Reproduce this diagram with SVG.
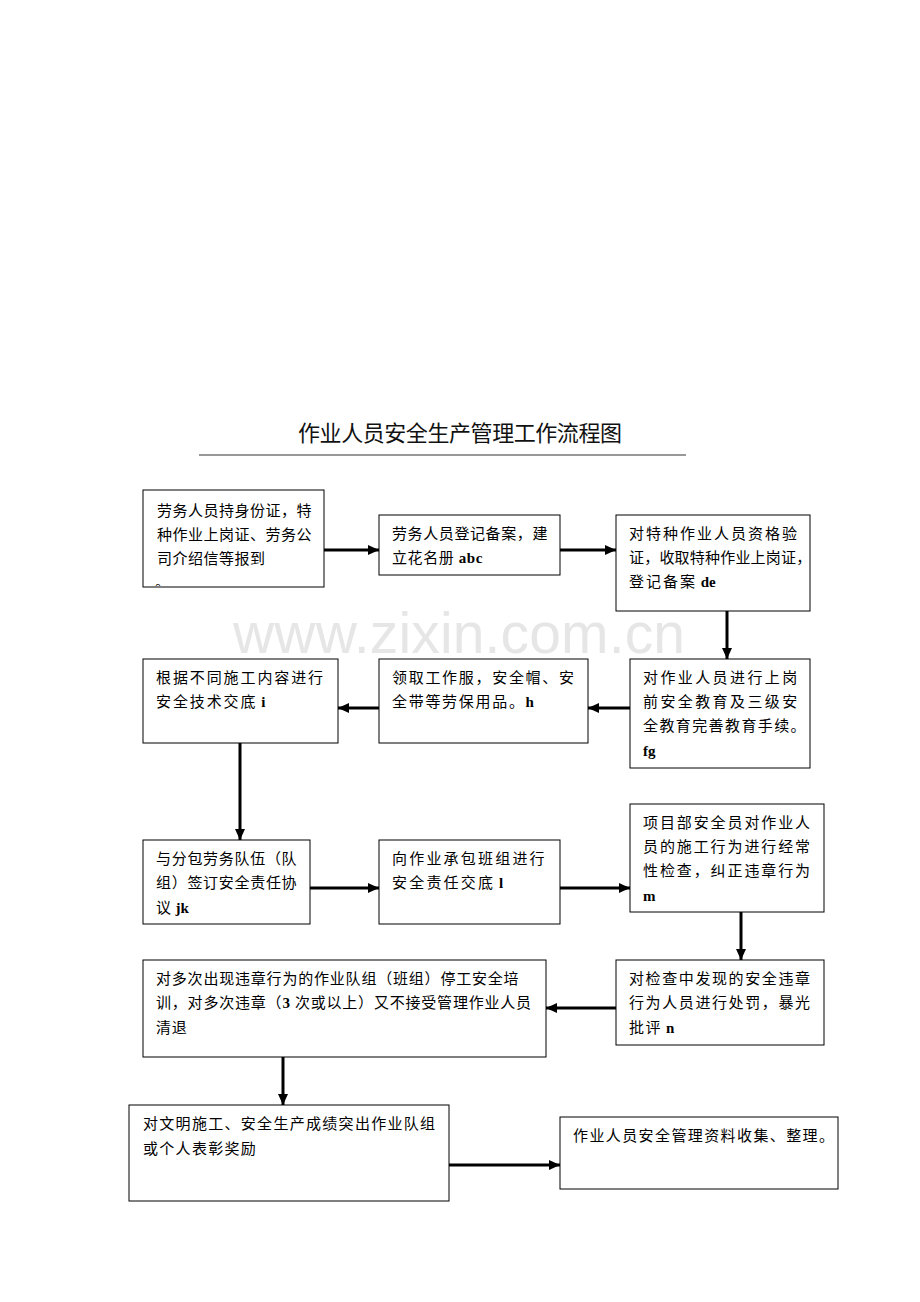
<svg xmlns="http://www.w3.org/2000/svg" width="920" height="1302" viewBox="0 0 920 1302">
<style>
.box{fill:#fff;stroke:#000;stroke-width:1}
.t{font-family:"Noto Sans CJK SC","Noto Sans",sans-serif;font-size:15px;fill:#000}
.b{font-family:"Liberation Serif",serif;font-weight:bold}
.c{stroke:#000;stroke-width:3;fill:none;marker-end:url(#ah)}
</style>
<defs>
<marker id="ah" markerUnits="userSpaceOnUse" markerWidth="12" markerHeight="10" refX="11" refY="5" orient="auto">
<path d="M0,0 L11,5 L0,10 Z" fill="#000"/>
</marker>
<clipPath id="clip1"><rect x="143" y="490" width="181" height="96"/></clipPath>
</defs>
<rect width="920" height="1302" fill="#fff"/>
<text x="233" y="653" font-family="Liberation Sans,Arial,sans-serif" font-size="57" fill="#e6e6e6" textLength="452">www.zixin.com.cn</text>
<g id="title">
<text x="298" y="441" class="t" style="font-size:22px;fill:#111" textLength="324" lengthAdjust="spacing">作业人员安全生产管理工作流程图</text>
<line x1="199" y1="455" x2="686" y2="455" stroke="#333" stroke-width="1"/>
</g>
<g id="connectors">
<line class="c" x1="324" y1="550" x2="379" y2="550"/>
<line class="c" x1="560" y1="550" x2="616" y2="550"/>
<line class="c" x1="727" y1="611" x2="727" y2="659"/>
<line class="c" x1="630" y1="708" x2="588" y2="708"/>
<line class="c" x1="379" y1="708" x2="338" y2="708"/>
<line class="c" x1="240" y1="743" x2="240" y2="840"/>
<line class="c" x1="310" y1="888" x2="379" y2="888"/>
<line class="c" x1="560" y1="888" x2="630" y2="888"/>
<line class="c" x1="741" y1="912" x2="741" y2="960"/>
<line class="c" x1="616" y1="1008" x2="546" y2="1008"/>
<line class="c" x1="283" y1="1057" x2="283" y2="1105"/>
<line class="c" x1="449" y1="1165" x2="560" y2="1165"/>
</g>
<g id="n1">
<rect class="box" x="143" y="490" width="181" height="97"/>
<g class="t" style="letter-spacing:0.5px">
<text x="157" y="516">劳务人员持身份证，特</text>
<text x="157" y="540">种作业上岗证、劳务公</text>
<text x="157" y="564">司介绍信等报到</text>
<text x="155" y="587" clip-path="url(#clip1)">。</text>
</g>
</g>
<g id="n2">
<rect class="box" x="379" y="515" width="181" height="60"/>
<g class="t" style="letter-spacing:0.6px">
<text x="392" y="539">劳务人员登记备案，建</text>
<text x="392" y="563">立花名册<tspan class="b"> abc</tspan></text>
</g>
</g>
<g id="n3">
<rect class="box" x="616" y="515" width="194" height="96"/>
<g class="t" style="letter-spacing:2px">
<text x="629" y="539">对特种作业人员资格验</text>
<text x="629" y="563" style="letter-spacing:0.2px">证，收取特种作业上岗证，</text>
<text x="629" y="587">登记备案<tspan class="b" style="letter-spacing:0"> de</tspan></text>
</g>
</g>
<g id="n4">
<rect class="box" x="143" y="659" width="195" height="84"/>
<g class="t" style="letter-spacing:1.9px">
<text x="156" y="683">根据不同施工内容进行</text>
<text x="156" y="707">安全技术交底<tspan class="b" style="letter-spacing:0"> i</tspan></text>
</g>
</g>
<g id="n5">
<rect class="box" x="379" y="659" width="209" height="84"/>
<g class="t" style="letter-spacing:1.7px">
<text x="392" y="683">领取工作服，安全帽、安</text>
<text x="392" y="707">全带等劳保用品。<tspan class="b" style="letter-spacing:0">h</tspan></text>
</g>
</g>
<g id="n6">
<rect class="box" x="630" y="659" width="180" height="109"/>
<g class="t" style="letter-spacing:2.4px">
<text x="643" y="683">对作业人员进行上岗</text>
<text x="643" y="707">前安全教育及三级安</text>
<text x="643" y="731" style="letter-spacing:1.4px">全教育完善教育手续。</text>
<text x="643" y="756" class="b" style="letter-spacing:0">fg</text>
</g>
</g>
<g id="n7">
<rect class="box" x="143" y="840" width="167" height="84"/>
<g class="t" style="letter-spacing:0.7px">
<text x="156" y="864">与分包劳务队伍（队</text>
<text x="156" y="888">组）签订安全责任协</text>
<text x="156" y="913">议<tspan class="b" style="letter-spacing:0"> jk</tspan></text>
</g>
</g>
<g id="n8">
<rect class="box" x="379" y="840" width="181" height="84"/>
<g class="t" style="letter-spacing:2.2px">
<text x="392" y="864">向作业承包班组进行</text>
<text x="392" y="888">安全责任交底<tspan class="b" style="letter-spacing:0"> l</tspan></text>
</g>
</g>
<g id="n9">
<rect class="box" x="630" y="804" width="194" height="108"/>
<g class="t" style="letter-spacing:1.9px">
<text x="643" y="828">项目部安全员对作业人</text>
<text x="643" y="852">员的施工行为进行经常</text>
<text x="643" y="876">性检查，纠正违章行为</text>
<text x="643" y="901" class="b" style="letter-spacing:0">m</text>
</g>
</g>
<g id="n10">
<rect class="box" x="616" y="960" width="208" height="85"/>
<g class="t" style="letter-spacing:1.6px">
<text x="629" y="984">对检查中发现的安全违章</text>
<text x="629" y="1008">行为人员进行处罚，暴光</text>
<text x="629" y="1033">批评<tspan class="b" style="letter-spacing:0">  n</tspan></text>
</g>
</g>
<g id="n11">
<rect class="box" x="143" y="960" width="403" height="97"/>
<g class="t" style="letter-spacing:0.8px">
<text x="156" y="984">对多次出现违章行为的作业队组（班组）停工安全培</text>
<text x="156" y="1008">训，对多次违章（<tspan class="b">3</tspan> 次或以上）又不接受管理作业人员</text>
<text x="156" y="1033">清退</text>
</g>
</g>
<g id="n12">
<rect class="box" x="129" y="1105" width="320" height="96"/>
<g class="t" style="letter-spacing:1.3px">
<text x="143" y="1129">对文明施工、安全生产成绩突出作业队组</text>
<text x="143" y="1154">或个人表彰奖励</text>
</g>
</g>
<g id="n13">
<rect class="box" x="560" y="1117" width="278" height="72"/>
<text x="573" y="1141" class="t" style="letter-spacing:1.4px">作业人员安全管理资料收集、整理。</text>
</g>
</svg>
